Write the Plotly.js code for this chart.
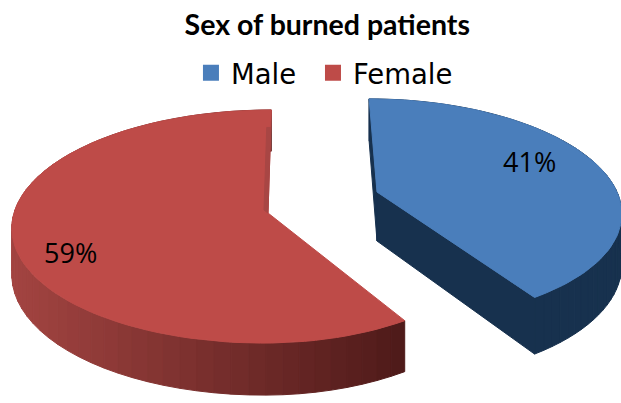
<!DOCTYPE html>
<html>
<head>
<meta charset="utf-8">
<script src="https://cdn.plot.ly/plotly-3.0.1.min.js"></script>
<style>html,body{margin:0;padding:0;background:#fff}#chart{width:621px;height:403px}</style>
</head>
<body>
<div id="chart"></div>
<script>
var chartTitle = 'Sex of burned patients';
var categories = ['Male', 'Female'];
var shares = [41, 59];
var topColors = ['#4a7ebb', '#be4b48'];
var sideStart = ['#17314e', '#a34441'];
var sideEnd = ['#17314e', '#4e1a19'];
var labelX = [529, 70];
var labelY = [161, 252];
var legendIds = ['legend', 'legend2'];
var legendX = [0.3075, 0.504];

// Projection of each exploded slice (a tilted disc seen in perspective).
var views = [
  {cx: 377, cy: 192, vx: 320, rRight: 240, rLeft: 240, ry: 108, a: 0.16, depth: 49},
  {cx: 268, cy: 213, vx: 300, rRight: 236, rLeft: 254, ry: 115, a: 0.116, depth: 46}
];

function project(v, deg, drop) {
  var t = deg * Math.PI / 180, s = Math.sin(t), c = Math.cos(t);
  var m = 1 / (1 + v.a * c);
  var r = s >= 0 ? v.rRight : v.rLeft;
  return [v.vx + (v.cx - v.vx + r * s) * m, v.cy - v.ry * c * m + drop * v.depth * m];
}
function apex(v, drop) { return [v.cx, v.cy + drop * v.depth]; }
function lerp(p, q, f) { return [p[0] + (q[0] - p[0]) * f, p[1] + (q[1] - p[1]) * f]; }
function poly(points, color) {
  var closed = points.concat([points[0]]);
  return {
    type: 'scatter', mode: 'lines', fill: 'toself', fillcolor: color,
    line: {color: color, width: 1}, hoverinfo: 'skip', showlegend: false,
    x: closed.map(function (p) { return p[0]; }),
    y: closed.map(function (p) { return p[1]; })
  };
}
function mix(a, b, f) {
  function ch(h, i) { return parseInt(h.substr(1 + 2 * i, 2), 16); }
  var out = [0, 1, 2].map(function (i) { return Math.round(ch(a, i) + (ch(b, i) - ch(a, i)) * f); });
  return 'rgb(' + out.join(',') + ')';
}

var total = shares.reduce(function (s, x) { return s + x; }, 0);
var traces = [];
var angle = 0;
var order = [];
categories.forEach(function (name, i) {
  var sweep = shares[i] / total * 360;
  order.push({i: i, from: angle, to: angle + sweep});
  angle += sweep;
});
order.slice().reverse().forEach(function (o) {
  var v = views[o.i], k;
  // visible cut faces of the blue slice
  if (o.i === 0) {
    traces.push(poly([project(v, o.from, 0), apex(v, 0), apex(v, 1), project(v, o.from, 1)], sideEnd[o.i]));
    traces.push(poly([project(v, o.to, 0), apex(v, 0), apex(v, 1), project(v, o.to, 1)], sideEnd[o.i]));
  }
  // rim, shaded left to right
  var n = 60, left = project(v, o.i === 1 ? 262 : o.to, 0)[0], right = project(v, o.from, 0)[0];
  for (k = 0; k < n; k++) {
    var a0 = o.to - (o.to - o.from) * k / n, a1 = o.to - (o.to - o.from) * (k + 1) / n;
    var q0 = project(v, a0, 0), q1 = project(v, a1, 0);
    var f = Math.min(1, Math.max(0, ((q0[0] + q1[0]) / 2 - left) / (right - left)));
    traces.push(poly([q0, q1, project(v, a1, 1), project(v, a0, 1)], mix(sideStart[o.i], sideEnd[o.i], f)));
  }
  // top face
  var pts = [apex(v, 0)];
  for (k = 0; k <= 90; k++) pts.push(project(v, o.from + (o.to - o.from) * k / 90, 0));
  traces.push(poly(pts, topColors[o.i]));
  // faint shaded strip along the red slice's inner edge
  if (o.i === 1) {
    var e0 = lerp(project(v, o.to, 0), apex(v, 0), 0.17), e1 = apex(v, 0);
    traces.push(poly([e0, e1, [e1[0] - 4, e1[1] - 3], [e0[0] - 4, e0[1]]], '#a84644'));
  }
});
categories.forEach(function (name, i) {
  traces.push({
    type: 'scatter', mode: 'markers', name: name, x: [null], y: [null], legend: legendIds[i],
    marker: {symbol: 'square', size: 18, color: topColors[i]}, hoverinfo: 'skip'
  });
});

var layout = {
  width: 621, height: 403,
  margin: {l: 0, r: 0, t: 0, b: 0},
  paper_bgcolor: '#fff', plot_bgcolor: '#fff',
  title: {text: '<b>' + chartTitle + '</b>', x: 0.527, xanchor: 'center', y: 0.938, yanchor: 'middle',
          font: {family: 'Lato, sans-serif', size: 28.5, color: '#000'}},
  xaxis: {range: [0, 621], visible: false, fixedrange: true},
  yaxis: {range: [403, 0], visible: false, fixedrange: true},
  showlegend: true,
  annotations: categories.map(function (name, i) {
    return {x: labelX[i], y: labelY[i], xref: 'x', yref: 'y', showarrow: false,
            text: shares[i] + '%', font: {family: 'Open Sans, sans-serif', size: 27, color: '#000'}};
  })
};
legendIds.forEach(function (id, i) {
  layout[id] = {
    orientation: 'h', x: legendX[i], xanchor: 'left', y: 0.819, yanchor: 'middle',
    bgcolor: 'rgba(0,0,0,0)',
    font: {family: 'DejaVu Sans, sans-serif', size: 27.5, color: '#000'}
  };
});
Plotly.newPlot('chart', traces, layout, {displayModeBar: false, responsive: false});
</script>
</body>
</html>
